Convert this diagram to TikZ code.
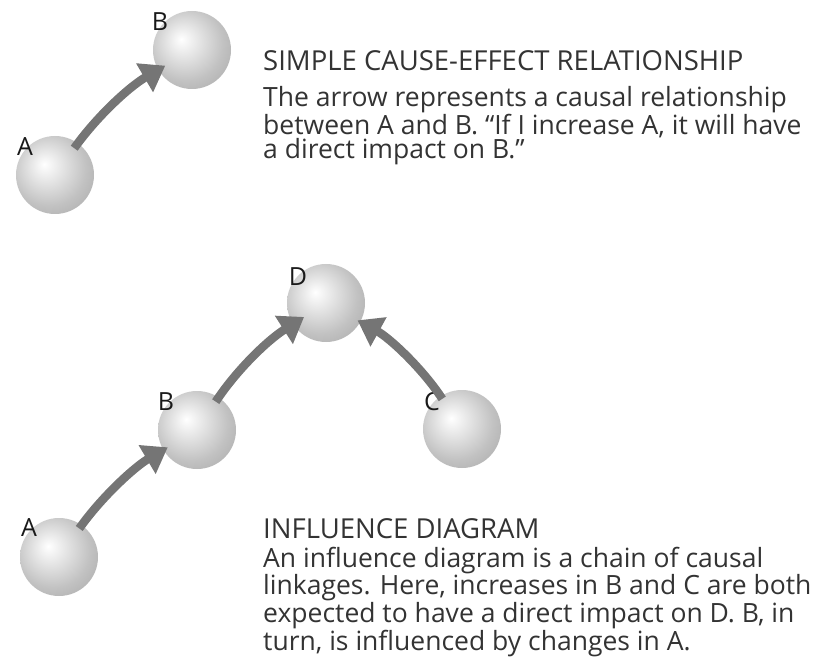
\documentclass[tikz,border=0pt]{standalone}
\usepackage{fontspec}
\setmainfont{Open Sans}
\usetikzlibrary{arrows.meta}
\pgfdeclareradialshading{spherical}{\pgfpoint{-7bp}{7bp}}{color(0bp)=(white); color(6bp)=(black!6); color(24bp)=(black!24); color(44bp)=(black!38); color(60bp)=(black!48)}
\begin{document}
\begin{tikzpicture}[x=1pt,y=1pt,
  ball/.style={circle,inner sep=0pt,minimum size=78pt,shading=spherical},
  causal/.style={-{Triangle[length=24pt,width=32pt]},line width=8.5pt,draw=black!54},
  lbl/.style={font=\fontsize{25}{25}\selectfont,text=black!90,inner sep=0pt},
  heading/.style={anchor=base west,font=\fontsize{27.5}{27.5}\selectfont,text=black!80,inner sep=0pt},
  body/.style={anchor=base west,align=left,font=\fontsize{26.5}{23}\selectfont,text=black!80,inner sep=0pt}]
\useasboundingbox (0,0) rectangle (821,662);
% simple cause-effect
\node[ball] (a1) at (55,487) {};
\node[ball] (b1) at (192,612) {};
\node[lbl] (la1) at (25,515) {A};
\node[lbl] (lb1) at (160,640) {B};
\draw[causal,shorten <=33pt,shorten >=31pt] (a1.center) to[bend left=12] (b1.center);
\node[heading] (t1) at (263,591) {SIMPLE CAUSE-EFFECT RELATIONSHIP};
% base = last line
\node[body] (x1) at (263,503) {The arrow represents a causal relationship\\between A and B. ``If I increase A, it will have\\a direct impact on B.''};
% influence diagram
\node[ball] (d2) at (326,359) {};
\node[ball] (b2) at (197,232) {};
\node[ball] (c2) at (462,233) {};
\node[ball] (a2) at (59,105) {};
\node[lbl] (ld2) at (298,385) {D};
\node[lbl] (lb2) at (166,260) {B};
\node[lbl] (lc2) at (432,260) {C};
\node[lbl] (la2) at (29,134) {A};
\draw[causal,shorten <=35pt,shorten >=34pt] (a2.center) to[bend left=12] (b2.center);
\draw[causal,shorten <=34pt,shorten >=26pt] (b2.center) to[bend left=12] (d2.center);
\draw[causal,shorten <=36pt,shorten >=36pt] (c2.center) to[bend right=14] (d2.center);
\node[heading] (t2) at (263,124) {INFLUENCE DIAGRAM};
\node[body] (x2) at (263,12) {An influence diagram is a chain of causal\\linkages. Here, increases in B and C are both\\expected to have a direct impact on D. B, in\\turn, is influenced by changes in A.};
\end{tikzpicture}
\end{document}
